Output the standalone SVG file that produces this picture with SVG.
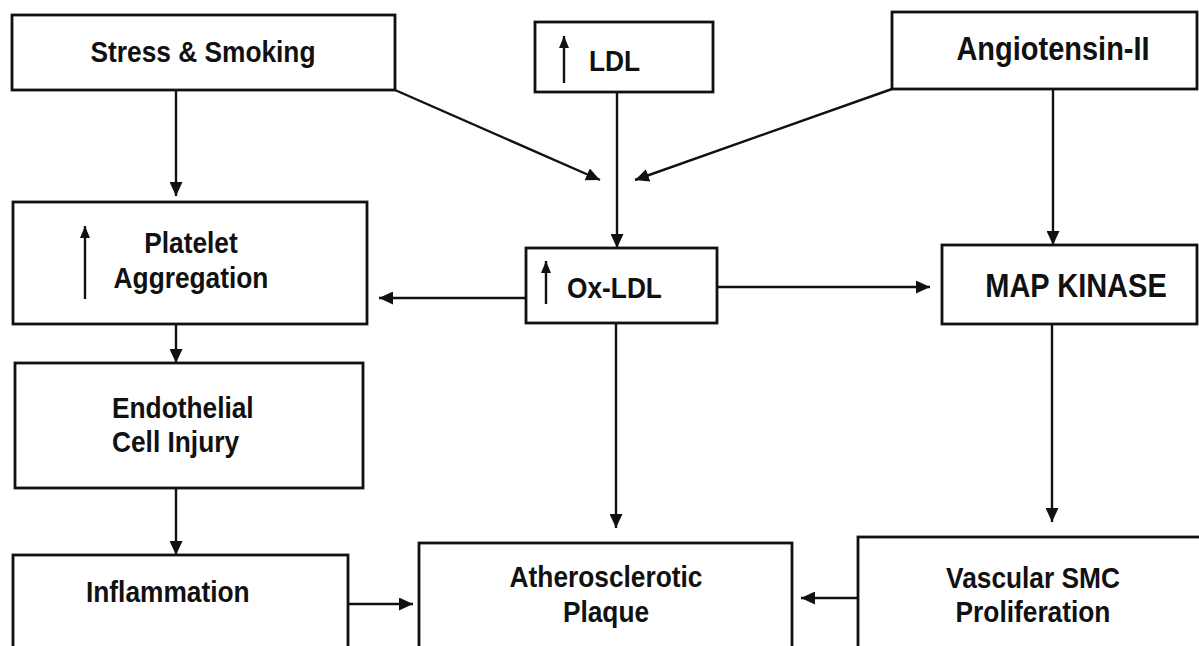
<svg xmlns="http://www.w3.org/2000/svg" width="1199" height="646" viewBox="0 0 1199 646">
<defs>
<style>
.box{fill:#fff;stroke:#111;stroke-width:2.8}
.t{font-family:"Liberation Sans",Arial,sans-serif;font-weight:bold;font-size:26.3px;fill:#111}
.tb{font-size:29px}
.c{text-anchor:middle}
.con line{stroke:#111;stroke-width:2.4;marker-end:url(#ah)}
.up{stroke:#111;stroke-width:2.4;marker-end:url(#ahs)}
</style>
<marker id="ah" viewBox="0 0 14 13" refX="14" refY="6.5" markerWidth="14" markerHeight="13" markerUnits="userSpaceOnUse" orient="auto">
<path d="M0,0 L14,6.5 L0,13 Z" fill="#111"/>
</marker>
<marker id="ahs" viewBox="0 0 12 10" refX="12" refY="5" markerWidth="12" markerHeight="10" markerUnits="userSpaceOnUse" orient="auto">
<path d="M0,0 L12,5 L0,10 Z" fill="#111"/>
</marker>
</defs>
<rect width="1199" height="646" fill="#fff"/>

<g id="stress">
<rect class="box" x="12" y="15" width="383" height="75"/>
<text class="t c" transform="translate(203,62) scale(1,1.13)">Stress &amp; Smoking</text>
</g>
<g id="ldl">
<rect class="box" x="535" y="22" width="178" height="70"/>
<line class="up" x1="564" y1="83" x2="564" y2="36"/>
<text class="t" transform="translate(589,71) scale(1,1.13)">LDL</text>
</g>
<g id="angiotensin">
<rect class="box" x="892" y="12" width="305" height="77"/>
<text class="t tb c" transform="translate(1053,60) scale(1,1.12)">Angiotensin-II</text>
</g>
<g id="platelet">
<rect class="box" x="13" y="202" width="354" height="122"/>
<line class="up" x1="85" y1="299" x2="85" y2="226"/>
<text class="t c" transform="translate(191,253) scale(1,1.13)">Platelet</text>
<text class="t c" transform="translate(191,288) scale(1,1.13)">Aggregation</text>
</g>
<g id="oxldl">
<rect class="box" x="526" y="248" width="191" height="75"/>
<line class="up" x1="546" y1="304" x2="546" y2="261"/>
<text class="t" transform="translate(567,298) scale(1,1.13)">Ox-LDL</text>
</g>
<g id="mapkinase">
<rect class="box" x="942" y="245" width="255" height="79"/>
<text class="t tb c" transform="translate(1076,297) scale(1,1.12)">MAP KINASE</text>
</g>
<g id="endothelial">
<rect class="box" x="15" y="363" width="348" height="125"/>
<text class="t" transform="translate(112,418) scale(1,1.13)">Endothelial</text>
<text class="t" transform="translate(112,452) scale(1,1.13)">Cell Injury</text>
</g>
<g id="inflammation">
<rect class="box" x="13" y="555" width="335" height="100"/>
<text class="t" transform="translate(86,602) scale(1,1.13)">Inflammation</text>
</g>
<g id="plaque">
<rect class="box" x="419" y="543" width="373" height="112"/>
<text class="t c" transform="translate(606,587) scale(1,1.13)">Atherosclerotic</text>
<text class="t c" transform="translate(606,622) scale(1,1.13)">Plaque</text>
</g>
<g id="vascular">
<rect class="box" x="858" y="537" width="345" height="118"/>
<text class="t c" transform="translate(1033,588) scale(1,1.13)">Vascular SMC</text>
<text class="t c" transform="translate(1033,622) scale(1,1.13)">Proliferation</text>
</g>

<g id="connectors" class="con">
<line x1="176" y1="90" x2="176" y2="196"/>
<line x1="395" y1="90" x2="600" y2="180"/>
<line x1="892" y1="89" x2="635" y2="180"/>
<line x1="617" y1="92" x2="617" y2="248"/>
<line x1="1053" y1="89" x2="1053" y2="245"/>
<line x1="526" y1="298" x2="379" y2="298"/>
<line x1="717" y1="287" x2="930" y2="287"/>
<line x1="176" y1="324" x2="176" y2="363"/>
<line x1="176" y1="488" x2="176" y2="555"/>
<line x1="616" y1="323" x2="616" y2="528"/>
<line x1="1052" y1="324" x2="1052" y2="522"/>
<line x1="348" y1="604" x2="413" y2="604"/>
<line x1="858" y1="598" x2="801" y2="598"/>
</g>
</svg>
